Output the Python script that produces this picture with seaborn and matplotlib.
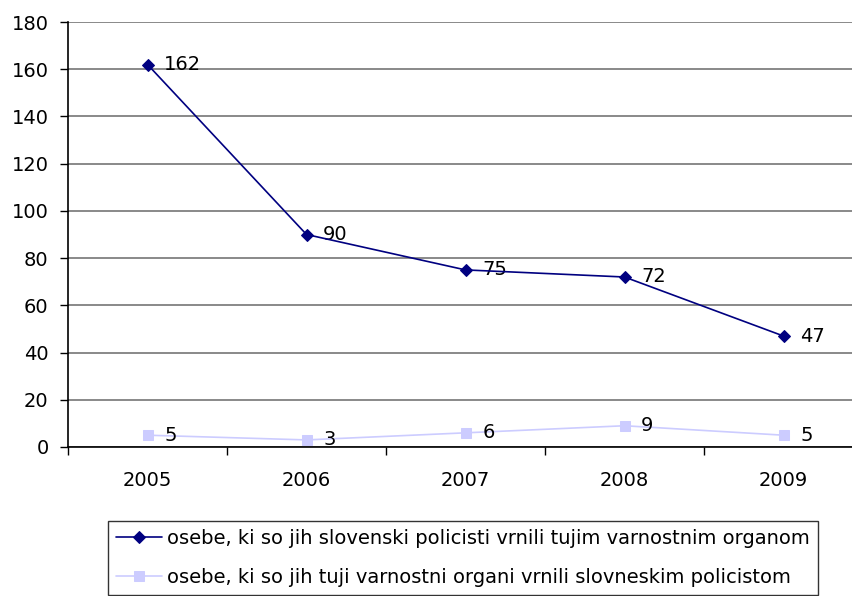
import matplotlib
matplotlib.use("Agg")
import matplotlib.pyplot as plt
import seaborn as sns
import numpy as np
import pandas as pd

years = ["2005", "2006", "2007", "2008", "2009"]
returned_by_slovenian = [162, 90, 75, 72, 47]
returned_to_slovenian = [5, 3, 6, 9, 5]
label1 = "osebe, ki so jih slovenski policisti vrnili tujim varnostnim organom"
label2 = "osebe, ki so jih tuji varnostni organi vrnili slovneskim policistom"
y_ticks = [0, 20, 40, 60, 80, 100, 120, 140, 160, 180]

sns.set_style("white")
plt.rcParams['font.family'] = ['DejaVu Sans']
plt.rcParams['text.color'] = 'black'
plt.rcParams['xtick.color'] = 'black'
plt.rcParams['ytick.color'] = 'black'
plt.rcParams['xtick.labelcolor'] = 'black'
plt.rcParams['ytick.labelcolor'] = 'black'
FS = 14

fig = plt.figure(figsize=(8.52, 5.96), dpi=100)
ax = fig.add_axes([68/852, 1-447/596, (863-68)/852, (447-22)/596])

pos = np.arange(len(years))
df = pd.DataFrame({"pos": np.concatenate([pos, pos]),
                   "value": returned_by_slovenian + returned_to_slovenian,
                   "series": [label1]*5 + [label2]*5})

sns.lineplot(data=df[df.series == label1], x="pos", y="value", ax=ax, color="#000080",
             marker="D", markersize=6.5, markeredgecolor="#000080", linewidth=1.2,
             label=label1, zorder=4)
sns.lineplot(data=df[df.series == label2], x="pos", y="value", ax=ax, color="#CCCCFF",
             marker="s", markersize=7, markeredgecolor="#CCCCFF", linewidth=1.2,
             label=label2, zorder=3)

for p, v in zip(pos, returned_by_slovenian):
    ax.annotate(str(v), (p, v), xytext=(12, 0), textcoords="offset points",
                va="center", ha="left", fontsize=FS, color="black")
for p, v in zip(pos, returned_to_slovenian):
    ax.annotate(str(v), (p, v), xytext=(12, 0), textcoords="offset points",
                va="center", ha="left", fontsize=FS, color="black")

ax.set_xlim(-0.5, len(years) - 0.5)
ax.set_ylim(0, 180)
ax.set_yticks(y_ticks)
ax.set_yticklabels([str(t) for t in y_ticks], fontsize=FS, color="black")
ax.yaxis.grid(True, color="#808080", linewidth=1.3)
ax.set_axisbelow(True)
ax.set_xticks(np.arange(-0.5, len(years)), minor=False)
ax.set_xticklabels([""] * (len(years) + 1))
ax.set_xticks(pos, minor=True)
ax.set_xticklabels(years, minor=True, fontsize=FS, color="black")
ax.tick_params(axis="x", which="major", direction="out", length=6, width=1, color="black", bottom=True)
ax.tick_params(axis="x", which="minor", length=0, pad=17)
ax.tick_params(axis="y", direction="out", length=6, width=1, color="black", left=True, pad=8)
ax.set_xlabel("")
ax.set_ylabel("")
for s in ["top", "right"]:
    ax.spines[s].set_visible(False)
for s in ["left", "bottom"]:
    ax.spines[s].set_color("black")
    ax.spines[s].set_linewidth(1.2)

leg = ax.legend(loc="upper left", bbox_to_anchor=(108/852, 1-521/596), bbox_transform=fig.transFigure,
                fontsize=FS, frameon=True, fancybox=False, edgecolor="black",
                handlelength=2.4, handletextpad=0.25, borderpad=0.4, labelspacing=1.05,
                borderaxespad=0)
leg.get_frame().set_linewidth(1.0)
for t in leg.get_texts():
    t.set_color("black")

fig.savefig("out.png", dpi=100)
